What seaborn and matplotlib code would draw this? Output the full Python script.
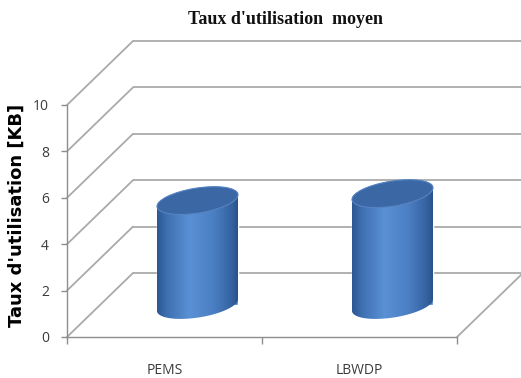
import numpy as np
import pandas as pd
import matplotlib
matplotlib.use("Agg")
import matplotlib.pyplot as plt
import matplotlib.transforms as mtransforms
from matplotlib.colors import LinearSegmentedColormap
from matplotlib.lines import Line2D
from matplotlib.patches import Ellipse, PathPatch
from matplotlib.path import Path
import seaborn as sns

# Data
categories = ["PEMS", "LBWDP"]
usage_kb = [4.5, 4.8]
y_ticks = [0, 2, 4, 6, 8, 10]
chart_title = "Taux d'utilisation  moyen"
y_title = "Taux d'utilisation [KB]"

W, H, DPI = 521, 378, 100
DEPTH_X, DEPTH_Y = 66, 64      # oblique depth of the 3D box, in pixels
CYL_RY, CYL_TILT = 12.5, 9     # cylinder cap half-height (px) and tilt (deg)
GRID = "#aaaaaa"
AXIS = "#8e8e8e"
TEXT = "#3b3b3b"

sns.set_theme(style="white")
plt.rcParams["font.family"] = ["Open Sans", "DejaVu Sans"]

fig = plt.figure(figsize=(W / DPI, H / DPI), dpi=DPI)
ax = fig.add_axes([67 / W, 1 - 337 / H, 390 / W, 232 / H])
ax.patch.set_alpha(0)

df = pd.DataFrame({"categorie": categories, "taux": usage_kb})
sns.barplot(data=df, x="categorie", y="taux", ax=ax, width=0.42,
            color="#4a7dbf", saturation=1, zorder=2)
ax.set_xlim(-0.5, len(categories) - 0.5)
ax.set_ylim(0, 10)
ax.set_autoscale_on(False)


def depth(frac):
    """Data transform pushed back by a fraction of the box depth."""
    return ax.transData + mtransforms.ScaledTranslation(
        frac * DEPTH_X / DPI, frac * DEPTH_Y / DPI, fig.dpi_scale_trans)


back = depth(1.0)
mid = depth(0.5)
px = mtransforms.IdentityTransform()
x_lo, x_hi = ax.get_xlim()

# Back wall gridlines and side-wall diagonals
for v in y_ticks:
    ax.plot([x_lo, x_hi], [v, v], transform=back, color=GRID, lw=1.3,
            clip_on=False, zorder=0.5, solid_capstyle="butt")
    p0 = ax.transData.transform((x_lo, v))
    p1 = back.transform((x_lo, v))
    ax.add_line(Line2D([p0[0], p1[0]], [p0[1], p1[1]], transform=px,
                       color=GRID, lw=1.3, clip_on=False, zorder=0.5))

# Right edge of the floor
p0 = ax.transData.transform((x_hi, 0))
p1 = back.transform((x_hi, 0))
ax.add_line(Line2D([p0[0], p1[0]], [p0[1], p1[1]], transform=px,
                   color=GRID, lw=1.3, clip_on=False, zorder=0.5))

# Cylinders built on the seaborn bars
body_cmap = LinearSegmentedColormap.from_list(
    "body", [(0, "#2c5690"), (0.12, "#3e70b1"), (0.4, "#5a90d5"),
             (0.7, "#4b7fc3"), (0.92, "#3563a1"), (1, "#2a5189")])
grad = np.linspace(0, 1, 256)[None, :]
th = np.radians(CYL_TILT)

for bar in list(ax.patches)[:len(categories)]:
    bar.set_transform(mid)
    bar.set_clip_on(False)
    x0, w, h = bar.get_x(), bar.get_width(), bar.get_height()
    xl, yb = mid.transform((x0, 0))
    xr, _ = mid.transform((x0 + w, 0))
    cx, yt = mid.transform((x0 + w / 2, h))
    rx = (xr - xl) / 2

    def ell(cy, t):
        ex, ey = rx * np.cos(t), CYL_RY * np.sin(t)
        return np.column_stack([cx + ex * np.cos(th) - ey * np.sin(th),
                                cy + ex * np.sin(th) + ey * np.cos(th)])

    t_r = np.arctan2(-CYL_RY * np.sin(th), rx * np.cos(th))
    lower = ell(yb, np.linspace(t_r, t_r - np.pi, 80))
    upper = ell(yt, np.linspace(t_r + np.pi, t_r, 80))
    verts = np.vstack([lower, upper, lower[:1]])
    sil = PathPatch(Path(verts, closed=True), transform=px)

    ext = (verts[:, 0].min(), verts[:, 0].max(),
           verts[:, 1].min(), verts[:, 1].max())
    im = ax.imshow(grad, cmap=body_cmap, extent=ext, transform=px,
                   aspect="auto", zorder=3, interpolation="bilinear")
    im.set_clip_path(sil)

    ax.add_patch(Ellipse((cx, yt), 2 * rx, 2 * CYL_RY, angle=CYL_TILT,
                         transform=px, facecolor="#3b68a5",
                         edgecolor="#5683c2", lw=0.8, zorder=4,
                         clip_on=False))

ax.set_xlim(x_lo, x_hi)
ax.set_ylim(0, 10)

# Axes, ticks and labels
for s in ("top", "right"):
    ax.spines[s].set_visible(False)
for s in ("left", "bottom"):
    ax.spines[s].set_color(AXIS)
    ax.spines[s].set_linewidth(1.0)

ax.set_yticks(y_ticks, [str(v) for v in y_ticks])
ax.tick_params(axis="y", left=True, length=4, width=1, color=AXIS, pad=9,
               labelsize=10, labelcolor=TEXT)
ax.set_xticks(range(len(categories)), categories)
ax.set_xticks([x_lo + i for i in range(len(categories) + 1)], minor=True)
ax.tick_params(axis="x", which="major", bottom=False, length=0, pad=19,
               labelsize=10, labelcolor=TEXT)
ax.tick_params(axis="x", which="minor", bottom=True, length=5, width=1,
               color=AXIS)
ax.set_xlabel("")
ax.set_ylabel(y_title, fontsize=13, fontweight="bold", family="DejaVu Sans",
              color="black", va="center")
ax.yaxis.set_label_coords(-0.128, 0.526)

fig.text(285 / W, 1 - 19 / H, chart_title, ha="center", va="center",
         family="Liberation Serif", fontweight="bold", fontsize=13,
         color="#111111")

fig.savefig("out.png", dpi=DPI)
